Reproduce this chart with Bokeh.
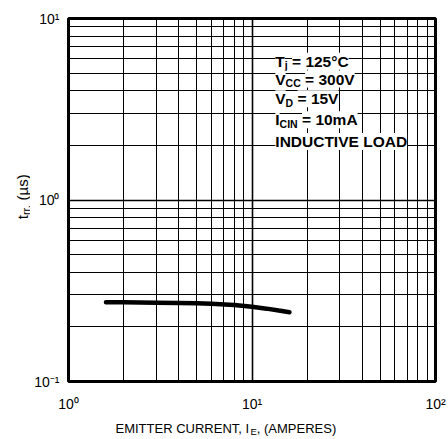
import math
from bokeh.plotting import figure
from bokeh.models import FixedTicker, Label
from bokeh.layouts import column, row
from bokeh.embed import file_html
from bokeh.resources import INLINE

# ---- data ----
emitter_current = [1.6, 2.0, 3.0, 4.0, 5.0, 6.0, 8.0, 10.0, 12.0, 14.0, 16.0]
trr_us = [0.273, 0.273, 0.272, 0.271, 0.270, 0.268, 0.264, 0.258, 0.252, 0.246, 0.241]

x_major = [1, 10, 100]
x_minor = [2, 3, 4, 5, 6, 7, 8, 9, 20, 30, 40, 50, 60, 70, 80, 90]
y_major = [0.1, 1, 10]
y_minor = [0.2, 0.3, 0.4, 0.5, 0.6, 0.7, 0.8, 0.9, 2, 3, 4, 5, 6, 7, 8, 9]
x_tick_labels = {1: "10⁰", 10: "10¹", 100: "10²"}
y_tick_labels = {0.1: "10⁻¹", 1: "10⁰", 10: "10¹"}

FONT = "Liberation Sans"

# ---- main plot ----
p = figure(width=418, height=414, x_axis_type="log", y_axis_type="log",
           x_range=(1, 100), y_range=(0.1, 10),
           output_backend="svg", toolbar_location=None,
           min_border_left=38, min_border_right=13,
           min_border_top=18, min_border_bottom=30)

p.xaxis.ticker = FixedTicker(ticks=x_major, minor_ticks=x_minor)
p.yaxis.ticker = FixedTicker(ticks=y_major, minor_ticks=y_minor)
p.xaxis.major_label_overrides = x_tick_labels
p.yaxis.major_label_overrides = y_tick_labels

for ax in (p.xaxis, p.yaxis):
    ax.major_tick_line_color = None
    ax.minor_tick_line_color = None
    ax.major_tick_out = 0
    ax.major_tick_in = 0
    ax.minor_tick_out = 0
    ax.minor_tick_in = 0
    ax.axis_line_color = None
    ax.major_label_text_font = FONT
    ax.major_label_text_font_size = "14px"
    ax.major_label_text_color = "black"
p.xaxis.major_label_standoff = 14
p.yaxis.major_label_standoff = 9

for g in (p.xgrid, p.ygrid):
    g.grid_line_color = "black"
    g.grid_line_width = 1.6
    g.grid_line_alpha = 1.0
    g.minor_grid_line_color = "black"
    g.minor_grid_line_width = 1.0

p.outline_line_color = "black"
p.outline_line_width = 3
p.background_fill_color = "white"
p.border_fill_color = "white"

p.line(emitter_current, trr_us, line_color="black", line_width=4.5, line_cap="round")


def lab(fig, x, y, text, size, xo=0, yo=0, bold=True, angle=0.0, bg=True):
    lb = Label(x=x, y=y, text=text, x_offset=xo, y_offset=yo,
               text_font=FONT, text_font_size=size,
               text_font_style="bold" if bold else "normal",
               text_color="black", text_baseline="alphabetic",
               text_align="left", angle=angle)
    if bg:
        lb.background_fill_color = "white"
    fig.add_layout(lb)


# ---- annotation block ----
AX = 13.4
ann_size = "15.5px"
sub_size = "10.5px"

lab(p, AX, 5.82, "T", ann_size)
lab(p, AX, 5.82, "j", sub_size, xo=9.5, yo=-4)
lab(p, AX, 5.82, "= 125°C", ann_size, xo=16.7)

lab(p, AX, 4.64, "V", ann_size)
lab(p, AX, 4.64, "CC", sub_size, xo=10.3, yo=-4)
lab(p, AX, 4.64, "= 300V", ann_size, xo=29.8)

lab(p, AX, 3.61, "V", ann_size)
lab(p, AX, 3.61, "D", sub_size, xo=10.3, yo=-4)
lab(p, AX, 3.61, "= 15V", ann_size, xo=22.2)

lab(p, AX, 2.77, "I", ann_size)
lab(p, AX, 2.77, "CIN", sub_size, xo=4.3, yo=-4)
lab(p, AX, 2.77, "= 10mA", ann_size, xo=26.7)

lab(p, AX, 2.10, "INDUCTIVE LOAD", ann_size)


def blank(w, h):
    f = figure(width=w, height=h, x_range=(0, w), y_range=(0, h),
               x_axis_location=None, y_axis_location=None,
               output_backend="svg", toolbar_location=None,
               min_border=0)
    f.grid.visible = False
    f.outline_line_color = None
    f.background_fill_color = "white"
    f.border_fill_color = "white"
    return f


# ---- y axis title (rotated), separate strip on the left ----
yfig = blank(30, 414)
lab(yfig, 22, 185, "t", "15px", bold=False, angle=math.pi / 2, bg=False)
lab(yfig, 22, 185, "rr,", "11px", xo=3, yo=4.2, bold=False, angle=math.pi / 2, bg=False)
lab(yfig, 22, 185, "(µs)", "15px", yo=18.8, bold=False, angle=math.pi / 2, bg=False)

# ---- x axis title, separate strip below ----
xfig = blank(448, 25)
lab(xfig, 115, 11, "EMITTER CURRENT, I", "13px", bold=False, bg=False)
lab(xfig, 115, 11, "E", "9.5px", xo=135, yo=-3, bold=False, bg=False)
lab(xfig, 115, 11, ", (AMPERES)", "13px", xo=141.3, bold=False, bg=False)

layout = column(row(yfig, p, spacing=0), xfig, spacing=0)

open("out.html", "w").write(file_html(layout, INLINE))
